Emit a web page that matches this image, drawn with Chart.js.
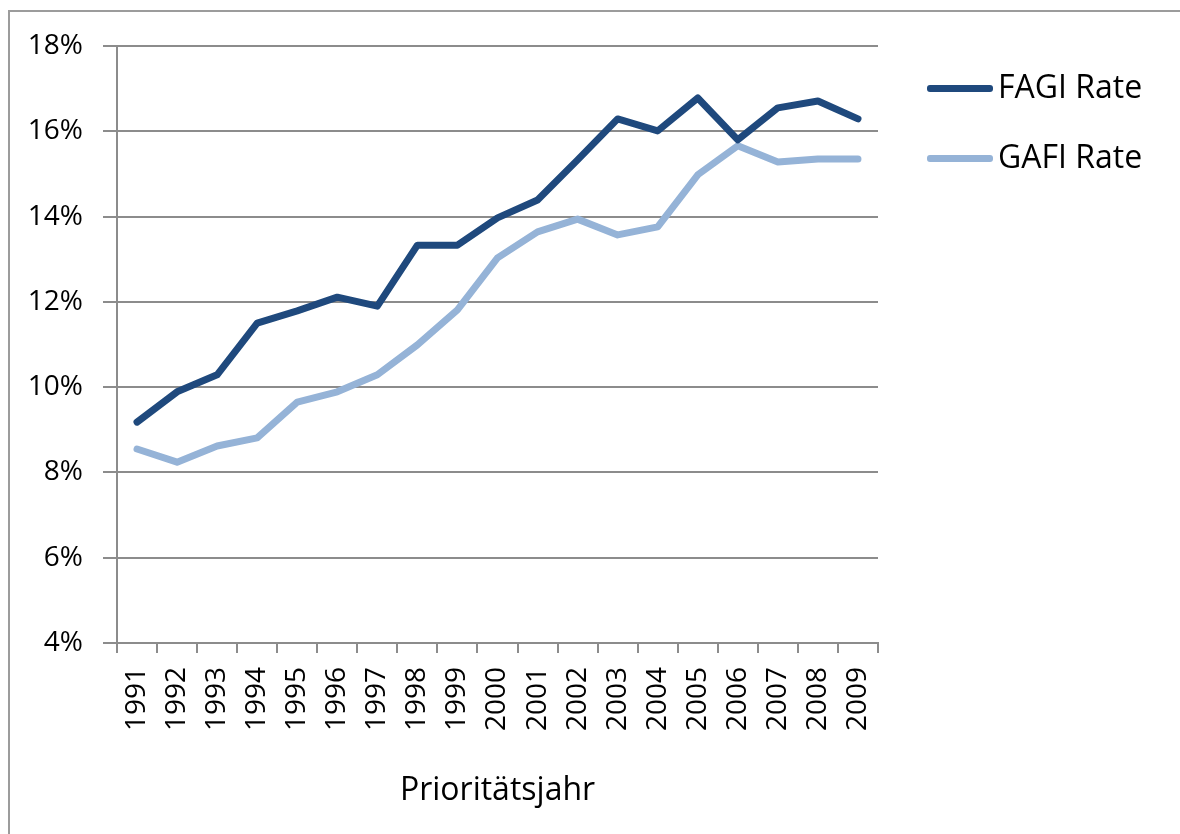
<!DOCTYPE html>
<html>
<head>
<meta charset="utf-8">
<script src="https://cdn.jsdelivr.net/npm/chart.js@4.4.1/dist/chart.umd.min.js"></script>
<style>
  html, body { margin: 0; padding: 0; background: #fff; overflow: hidden; }
  #wrap { position: relative; width: 1180px; height: 834px; }
  .leg-line { position: absolute; left: 927px; width: 66px; height: 7px; border-radius: 3px; }
  .leg-text { position: absolute; left: 998px; font: 32px "Open Sans", sans-serif; line-height: 32px; color: #000; white-space: nowrap; }
</style>
</head>
<body>
<div id="wrap">
  <canvas id="chart" width="1180" height="834"></canvas>
  <div id="legend"></div>
</div>
<script>
// Prioritätsjahr 1991–2009, rates in %
const years = ['1991', '1992', '1993', '1994', '1995', '1996', '1997', '1998', '1999', '2000',
  '2001', '2002', '2003', '2004', '2005', '2006', '2007', '2008', '2009'];
const fagiRate = [9.18, 9.89, 10.29, 11.50, 11.79, 12.11, 11.90, 13.33, 13.33, 13.97,
  14.39, 15.33, 16.29, 16.01, 16.78, 15.80, 16.55, 16.71, 16.29];
const gafiRate = [8.55, 8.24, 8.62, 8.81, 9.65, 9.89, 10.29, 10.99, 11.81, 13.03,
  13.64, 13.94, 13.57, 13.76, 14.98, 15.66, 15.28, 15.35, 15.35];
const yTicks = [4, 6, 8, 10, 12, 14, 16, 18];

const GRID = '#8c8c8c';
Chart.defaults.font.family = '"Open Sans", sans-serif';
Chart.defaults.color = '#000';

// grey outer frame of the chart object
const framePlugin = {
  id: 'frame',
  beforeDraw(chart) {
    const c = chart.ctx;
    c.save();
    c.strokeStyle = '#9c9c9c';
    c.lineWidth = 2;
    c.strokeRect(9, 11, 1400, 1000);
    c.restore();
  }
};

const datasets = [
  { label: 'FAGI Rate', data: fagiRate, borderColor: '#1f497d' },
  { label: 'GAFI Rate', data: gafiRate, borderColor: '#95b3d7' },
].map(d => ({
  ...d,
  borderWidth: 7,
  pointRadius: 0,
  tension: 0,
  borderCapStyle: 'round',
  borderJoinStyle: 'round',
}));

new Chart(document.getElementById('chart'), {
  type: 'line',
  data: { labels: years, datasets },
  plugins: [framePlugin],
  options: {
    responsive: false,
    animation: false,
    layout: { padding: { top: 46, right: 302, left: 0, bottom: 0 } },
    plugins: { legend: { display: false }, tooltip: { enabled: false } },
    scales: {
      x: {
        offset: true,
        afterFit: s => { s.height = 191; },
        grid: { offset: true, drawOnChartArea: false, color: GRID, lineWidth: 2, tickLength: 10 },
        border: { color: GRID, width: 2 },
        ticks: { autoSkip: false, minRotation: 90, maxRotation: 90, padding: 14, font: { size: 28 } },
        title: { display: true, text: 'Prioritätsjahr', font: { size: 32 }, padding: { top: 0, bottom: 24 } },
      },
      y: {
        min: yTicks[0],
        max: yTicks[yTicks.length - 1],
        afterFit: s => { s.width = 117; },
        afterBuildTicks: s => { s.ticks = yTicks.map(v => ({ value: v })); },
        grid: { color: GRID, lineWidth: 2, tickLength: 14 },
        border: { color: GRID, width: 2 },
        ticks: { padding: 20, font: { size: 28 }, callback: v => v + '%' },
      },
    },
  },
});

// legend to the right of the plot
const legend = document.getElementById('legend');
datasets.forEach((d, i) => {
  const top = 70 + i * 70;
  legend.insertAdjacentHTML('beforeend',
    `<div class="leg-line" style="top:${top + 15}px;background:${d.borderColor}"></div>` +
    `<div class="leg-text" style="top:${top}px">${d.label}</div>`);
});
</script>
</body>
</html>
